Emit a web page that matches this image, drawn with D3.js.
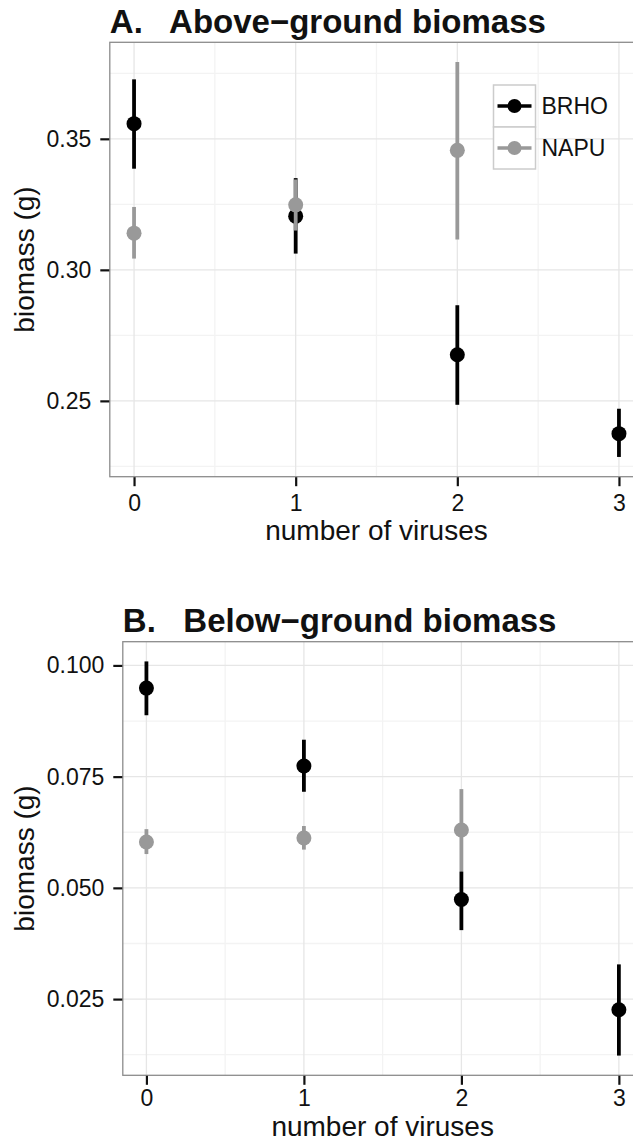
<!DOCTYPE html>
<html>
<head>
<meta charset="utf-8">
<script src="https://cdn.jsdelivr.net/npm/d3@7"></script>
<style>
  html, body { margin: 0; padding: 0; background: #fff; }
  svg { display: block; font-family: "Liberation Sans", Arial, Helvetica, sans-serif; }
</style>
</head>
<body>
<svg id="chart" width="633" height="1143"></svg>
<script>
// ---------- data ----------
const virusTicks = [0, 1, 2, 3];
const virusTickLabels = ["0", "1", "2", "3"];
const species = ["BRHO", "NAPU"];

// Panel A: above-ground biomass (g)
const aboveBRHOx  = [0, 1, 2, 3];
const aboveBRHO   = [0.3558, 0.3205, 0.2676, 0.2375];
const aboveBRHOlo = [0.3386, 0.3062, 0.2485, 0.2286];
const aboveBRHOhi = [0.3727, 0.3350, 0.2865, 0.2470];
const aboveNAPUx  = [0, 1, 2];
const aboveNAPU   = [0.3140, 0.3248, 0.3456];
const aboveNAPUlo = [0.3043, 0.3150, 0.3116];
const aboveNAPUhi = [0.3240, 0.3345, 0.3793];
const aboveYTicks = [0.25, 0.30, 0.35];
const aboveYTickLabels = ["0.25", "0.30", "0.35"];

// Panel B: below-ground biomass (g)
const belowBRHOx  = [0, 1, 2, 3];
const belowBRHO   = [0.0949, 0.0774, 0.0474, 0.0226];
const belowBRHOlo = [0.0888, 0.0716, 0.0405, 0.0123];
const belowBRHOhi = [0.1009, 0.0833, 0.0537, 0.0328];
const belowNAPUx  = [0, 1, 2];
const belowNAPU   = [0.0603, 0.0612, 0.0630];
const belowNAPUlo = [0.0576, 0.0586, 0.0538];
const belowNAPUhi = [0.0632, 0.0639, 0.0722];
const belowYTicks = [0.025, 0.050, 0.075, 0.100];
const belowYTickLabels = ["0.025", "0.050", "0.075", "0.100"];

const colors = { BRHO: "#000000", NAPU: "#999999" };

// ---------- helpers ----------
function series(name, xs, ys, lo, hi) {
  return xs.map((x, i) => ({ name, x, y: ys[i], lo: lo[i], hi: hi[i] }));
}

const svg = d3.select("#chart");

function drawPanel(cfg) {
  const g = svg.append("g");
  const { left, right, top, bottom } = cfg.box;
  const all = cfg.data.flat();
  const yMin = d3.min(all, d => d.lo), yMax = d3.max(all, d => d.hi);
  const pad = (yMax - yMin) * 0.05;
  const x = d3.scaleLinear().domain([-0.15, 3.15]).range([left, right]);
  const y = d3.scaleLinear().domain([yMin - pad, yMax + pad]).range([bottom, top]);

  // panel background
  g.append("rect").attr("x", left).attr("y", top)
    .attr("width", right - left).attr("height", bottom - top).attr("fill", "#fff");

  // minor grid
  const yMinor = [];
  for (let i = 0; i <= cfg.yTicks.length; i++) {
    const step = cfg.yTicks[1] - cfg.yTicks[0];
    yMinor.push(cfg.yTicks[0] - step / 2 + i * step);
  }
  const yDom = y.domain();
  g.selectAll(".yminor").data(yMinor.filter(v => v > yDom[0] && v < yDom[1])).join("line")
    .attr("x1", left).attr("x2", right).attr("y1", d => y(d)).attr("y2", d => y(d))
    .attr("stroke", "#f3f3f3").attr("stroke-width", 1.3);
  g.selectAll(".xminor").data([0.5, 1.5, 2.5]).join("line")
    .attr("y1", top).attr("y2", bottom).attr("x1", d => x(d)).attr("x2", d => x(d))
    .attr("stroke", "#f3f3f3").attr("stroke-width", 1.3);
  // major grid
  g.selectAll(".ymajor").data(cfg.yTicks).join("line")
    .attr("x1", left).attr("x2", right).attr("y1", d => y(d)).attr("y2", d => y(d))
    .attr("stroke", "#e6e6e6").attr("stroke-width", 1.3);
  g.selectAll(".xmajor").data(virusTicks).join("line")
    .attr("y1", top).attr("y2", bottom).attr("x1", d => x(d)).attr("x2", d => x(d))
    .attr("stroke", "#e6e6e6").attr("stroke-width", 1.3);

  // data
  cfg.data.forEach(s => {
    const sg = g.append("g");
    sg.selectAll("line").data(s).join("line")
      .attr("x1", d => x(d.x)).attr("x2", d => x(d.x))
      .attr("y1", d => y(d.lo)).attr("y2", d => y(d.hi))
      .attr("stroke", d => colors[d.name]).attr("stroke-width", 3.8);
    sg.selectAll("circle").data(s).join("circle")
      .attr("cx", d => x(d.x)).attr("cy", d => y(d.y)).attr("r", 7.5)
      .attr("fill", d => colors[d.name]);
  });

  // border
  g.append("rect").attr("x", left).attr("y", top)
    .attr("width", right - left).attr("height", bottom - top)
    .attr("fill", "none").attr("stroke", "#8c8c8c").attr("stroke-width", 1.3);

  // y axis
  const yAxis = d3.axisLeft(y).tickValues(cfg.yTicks)
    .tickFormat((d, i) => cfg.yTickLabels[i]).tickSize(9).tickPadding(9);
  const ya = g.append("g").attr("transform", `translate(${left - 0.5},0)`).call(yAxis);
  ya.select(".domain").remove();
  ya.selectAll(".tick line").attr("stroke", "#111").attr("stroke-width", 2.2);
  ya.selectAll(".tick text").attr("fill", "#111").style("font-size", "23px")
    .style("font-family", "'Liberation Sans', Arial, sans-serif");

  // x axis
  const xAxis = d3.axisBottom(x).tickValues(virusTicks)
    .tickFormat((d, i) => virusTickLabels[i]).tickSize(9).tickPadding(cfg.xPad);
  const xa = g.append("g").attr("transform", `translate(0,${bottom + 0.5})`).call(xAxis);
  xa.select(".domain").remove();
  xa.selectAll(".tick line").attr("stroke", "#111").attr("stroke-width", 2.2);
  xa.selectAll(".tick text").attr("fill", "#111").style("font-size", "23px")
    .style("font-family", "'Liberation Sans', Arial, sans-serif");

  // axis titles
  g.append("text").attr("x", (left + right) / 2).attr("y", cfg.xTitleY)
    .attr("text-anchor", "middle").style("font-size", "28px").attr("fill", "#111")
    .text("number of viruses");
  g.append("text")
    .attr("transform", `translate(34,${(top + bottom) / 2}) rotate(-90)`)
    .attr("text-anchor", "middle").style("font-size", "28px").attr("fill", "#111")
    .text("biomass (g)");

  // plot title
  g.append("text").attr("x", left).attr("y", cfg.titleY)
    .attr("xml:space", "preserve").style("white-space", "pre")
    .style("font-size", "33px").style("font-weight", "bold").attr("fill", "#111")
    .text(cfg.title);

  // legend
  if (cfg.legend) {
    const L = cfg.legend;
    const lg = g.append("g");
    species.forEach((sp, i) => {
      const ky = L.y + i * L.key;
      lg.append("rect").attr("x", L.x).attr("y", ky).attr("width", L.key).attr("height", L.key)
        .attr("fill", "#fff").attr("stroke", "#cccccc").attr("stroke-width", 1.5);
      lg.append("line").attr("x1", L.x + 4).attr("x2", L.x + L.key - 4)
        .attr("y1", ky + L.key / 2).attr("y2", ky + L.key / 2)
        .attr("stroke", colors[sp]).attr("stroke-width", 3.5);
      lg.append("circle").attr("cx", L.x + L.key / 2).attr("cy", ky + L.key / 2).attr("r", 7)
        .attr("fill", colors[sp]);
      lg.append("text").attr("x", L.x + L.key + 6).attr("y", ky + L.key / 2)
        .attr("dy", "0.36em").style("font-size", "23px").attr("fill", "#111").text(sp);
    });
  }
}

drawPanel({
  title: "A.   Above\u2212ground biomass",
  titleY: 33,
  box: { left: 109.8, right: 643.2, top: 42.3, bottom: 476.7 },
  data: [
    series("BRHO", aboveBRHOx, aboveBRHO, aboveBRHOlo, aboveBRHOhi),
    series("NAPU", aboveNAPUx, aboveNAPU, aboveNAPUlo, aboveNAPUhi)
  ],
  yTicks: aboveYTicks, yTickLabels: aboveYTickLabels,
  xPad: 8,
  xTitleY: 540,
  legend: { x: 493.5, y: 85, key: 42 }
});

drawPanel({
  title: "B.   Below\u2212ground biomass",
  titleY: 631.5,
  box: { left: 122.8, right: 642.5, top: 641.7, bottom: 1075.3 },
  data: [
    series("BRHO", belowBRHOx, belowBRHO, belowBRHOlo, belowBRHOhi),
    series("NAPU", belowNAPUx, belowNAPU, belowNAPUlo, belowNAPUhi)
  ],
  yTicks: belowYTicks, yTickLabels: belowYTickLabels,
  xPad: 5,
  xTitleY: 1136
});
</script>
</body>
</html>
